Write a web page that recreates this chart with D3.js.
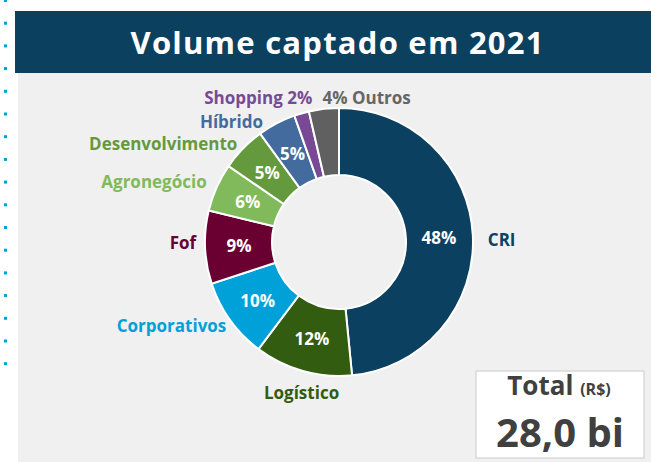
<!DOCTYPE html>
<html>
<head>
<meta charset="utf-8">
<script src="https://cdn.jsdelivr.net/npm/d3@7"></script>
<style>
  html, body { margin: 0; padding: 0; background: #fff; }
  svg { display: block; font-family: "Open Sans", "Noto Sans", sans-serif; }
</style>
</head>
<body>
<div id="chartMain"></div>
<script>
// categorias e participação (%) no volume captado
const categories = ['CRI', 'Logístico', 'Corporativos', 'Fof', 'Agronegócio', 'Desenvolvimento', 'Híbrido', 'Shopping', 'Outros'];
const shares = [48.4, 11.8, 9.7, 8.8, 5.8, 5.4, 4.6, 1.8, 3.6];
const colors = ['#0b4060', '#325c10', '#00a1d9', '#6a0032', '#80ba5a', '#649a3d', '#436b9d', '#784a95', '#606060'];
const labelColors = ['#0b4060', '#325c10', '#00a1d9', '#6a0032', '#80ba5a', '#649a3d', '#436b9d', '#784a95', '#666666'];
const title = 'Volume captado em 2021';
const totalLabel = 'Total';
const totalUnit = '(R$)';
const totalValue = '28,0 bi';

const W = 651, H = 462;
const cx = 339, cy = 242;
const outerR = 134, innerR = 67;

const svg = d3.select('#chartMain')
    .append('svg')
    .attr('width', W)
    .attr('height', H);

// fundo cinza
svg.append('rect')
    .attr('x', 18).attr('y', 72)
    .attr('width', W - 18).attr('height', H - 72)
    .attr('fill', '#f0f0f0');

// faixa do título
svg.append('rect')
    .attr('x', 15).attr('y', 11)
    .attr('width', W - 15).attr('height', 62)
    .attr('fill', '#0b405f');

svg.append('text')
    .attr('x', 337).attr('y', 42)
    .attr('text-anchor', 'middle')
    .attr('dominant-baseline', 'central')
    .attr('fill', '#fff')
    .attr('font-size', 31)
    .attr('font-weight', 700)
    .attr('textLength', 413)
    .text(title);

// pontinhos azuis à esquerda
svg.append('g')
    .selectAll('rect')
    .data(d3.range(0, 17))
    .join('rect')
    .attr('x', 4).attr('y', i => -1 + i * 22.7)
    .attr('width', 3).attr('height', 3)
    .attr('fill', '#00a1d9');

const data = categories.map((c, i) => ({ name: c, value: shares[i], color: colors[i], labelColor: labelColors[i] }));

const pie = d3.pie()
    .value(d => d.value)
    .sort(null);

const arcs = pie(data);

const arc = d3.arc()
    .innerRadius(innerR)
    .outerRadius(outerR);

const midArc = d3.arc()
    .innerRadius(100)
    .outerRadius(100);

const g = svg.append('g')
    .attr('transform', `translate(${cx},${cy})`);

g.selectAll('path')
    .data(arcs)
    .join('path')
    .attr('d', arc)
    .attr('fill', d => d.data.color)
    .attr('stroke', '#fff')
    .attr('stroke-width', 2);

const fmt = v => Math.round(v) + '%';

// percentuais dentro das fatias maiores
g.selectAll('text.pct')
    .data(arcs.filter(d => d.data.value >= 4.5))
    .join('text')
    .attr('class', 'pct')
    .attr('transform', d => `translate(${midArc.centroid(d)})`)
    .attr('text-anchor', 'middle')
    .attr('dominant-baseline', 'central')
    .attr('fill', '#fff')
    .attr('font-size', 17)
    .attr('font-weight', 700)
    .text(d => fmt(d.data.value));

// rótulos externos
const labelR = 146;
const nudge = {
    'CRI': [3, 5], 'Logístico': [2, 10], 'Corporativos': [6, -1], 'Fof': [3, -5],
    'Agronegócio': [1, -1], 'Desenvolvimento': [3, 3], 'Híbrido': [-8, 9],
    'Shopping': [14, -4], 'Outros': [0, 1]
};

g.selectAll('text.lbl')
    .data(arcs)
    .join('text')
    .attr('class', 'lbl')
    .each(function(d) {
        const a = (d.startAngle + d.endAngle) / 2;
        const n = nudge[d.data.name] || [0, 0];
        let x = labelR * Math.sin(a) + n[0];
        let y = -labelR * Math.cos(a) + n[1];
        let anchor = Math.sin(a) > 0.3 ? 'start' : (Math.sin(a) < -0.3 ? 'end' : 'middle');
        let txt = d.data.name;
        if (d.data.name === 'Shopping') { anchor = 'end'; txt = d.data.name + ' ' + fmt(d.data.value); }
        if (d.data.name === 'Outros') { anchor = 'start'; txt = fmt(d.data.value) + ' ' + d.data.name; }
        d3.select(this)
            .attr('x', x).attr('y', y)
            .attr('text-anchor', anchor)
            .attr('dominant-baseline', 'central')
            .attr('fill', d.data.labelColor)
            .attr('font-size', 17)
            .attr('font-weight', 700)
            .text(txt);
    });

// caixa do total
const box = svg.append('g').attr('transform', 'translate(476,371)');
box.append('rect')
    .attr('width', 168).attr('height', 87)
    .attr('fill', '#fff')
    .attr('stroke', '#d9d9d9')
    .attr('stroke-width', 1.5);

const t1 = box.append('text')
    .attr('x', 83).attr('y', 24)
    .attr('text-anchor', 'middle')
    .attr('fill', '#404040')
    .attr('font-weight', 700);
t1.append('tspan').attr('font-size', 26).text(totalLabel + ' ');
t1.append('tspan').attr('font-size', 16).text(totalUnit);

box.append('text')
    .attr('x', 84).attr('y', 76)
    .attr('text-anchor', 'middle')
    .attr('fill', '#404040')
    .attr('font-size', 40)
    .attr('font-weight', 700)
    .text(totalValue);
</script>
</body>
</html>
